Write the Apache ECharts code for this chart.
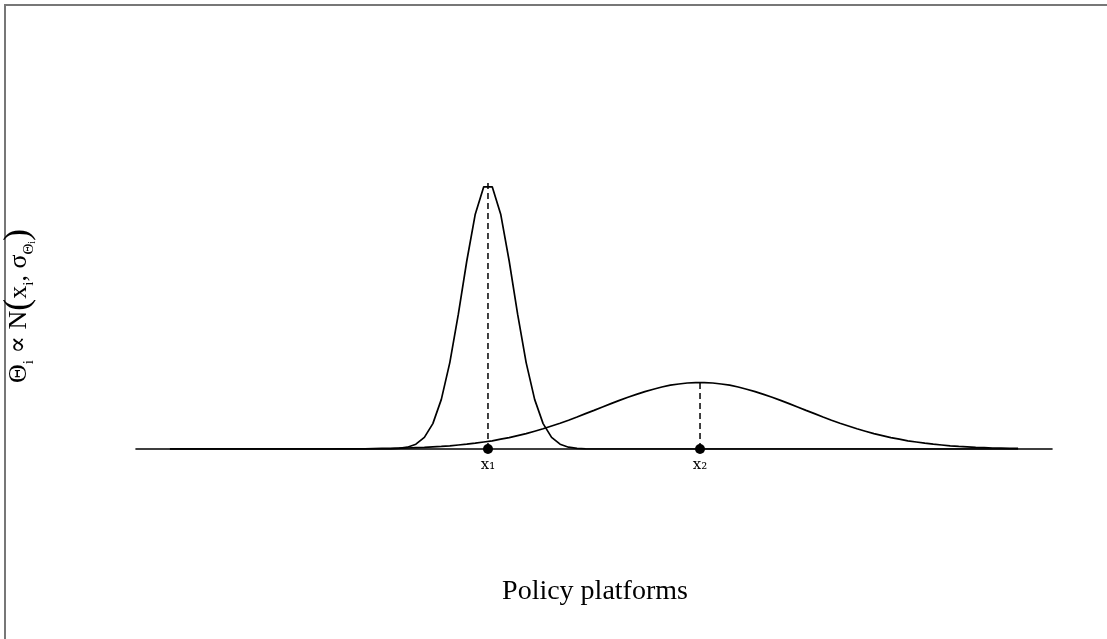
<!DOCTYPE html>
<html>
<head>
<meta charset="utf-8">
<script src="https://cdn.jsdelivr.net/npm/echarts@6/dist/echarts.min.js"></script>
<style>
html,body{margin:0;padding:0;background:#fff;}
#chart{width:1107px;height:639px;}
</style>
</head>
<body>
<div id="chart"></div>
<script>
// Policy-space sample positions (0..100)
const xPositions = [0,1,2,3,4,5,6,7,8,9,10,11,12,13,14,15,16,17,18,19,20,21,22,23,24,25,26,27,28,29,30,31,32,33,34,35,36,37,38,39,40,41,42,43,44,45,46,47,48,49,50,51,52,53,54,55,56,57,58,59,60,61,62,63,64,65,66,67,68,69,70,71,72,73,74,75,76,77,78,79,80,81,82,83,84,85,86,87,88,89,90,91,92,93,94,95,96,97,98,99,100];
// Narrow distribution (voter 1)
const narrowDensity = [0,0,0,0,0,0,0,0,0,0,0,0,0,0,0,0,0,0,0,0,0,0,0,0,0,0,0.01,0.03,0.09,0.24,0.58,1.27,2.48,4.32,6.73,9.40,11.74,13.11,13.11,11.74,9.40,6.73,4.32,2.48,1.27,0.58,0.24,0.09,0.03,0.01,0,0,0,0,0,0,0,0,0,0,0,0,0,0,0,0,0,0,0,0,0,0,0,0,0,0,0,0,0,0,0,0,0,0,0,0,0,0,0,0,0,0,0,0,0,0,0,0,0,0,0];
// Wide distribution (voter 2)
const wideDensity = [0,0,0,0,0,0,0,0,0,0,0,0,0,0,0,0,0,0,0,0,0.01,0.01,0.01,0.01,0.02,0.03,0.03,0.04,0.05,0.07,0.08,0.11,0.13,0.16,0.20,0.24,0.29,0.35,0.41,0.49,0.57,0.67,0.77,0.89,1.01,1.15,1.29,1.44,1.60,1.77,1.93,2.10,2.27,2.43,2.59,2.73,2.87,2.99,3.10,3.19,3.25,3.30,3.32,3.32,3.30,3.25,3.19,3.10,2.99,2.87,2.73,2.59,2.43,2.27,2.10,1.93,1.77,1.60,1.44,1.29,1.15,1.01,0.89,0.77,0.67,0.57,0.49,0.41,0.35,0.29,0.24,0.20,0.16,0.13,0.11,0.08,0.07,0.05,0.04,0.03,0.03];
// Ideal points and peak heights
const idealPoints = [37.5, 62.5];
const peakHeights = [13.30, 3.32];
const pointLabels = ['x\u2081', 'x\u2082'];
const xAxisTitle = 'Policy platforms';

const chart = echarts.init(document.getElementById('chart'), null, {renderer: 'canvas'});
const serif = "'Liberation Serif', 'DejaVu Serif', serif";
const serif2 = "'DejaVu Serif', 'Liberation Serif', serif";

const series = [
  {type: 'line', data: xPositions.map((x, i) => [x, narrowDensity[i]]), showSymbol: false,
   lineStyle: {color: '#000', width: 1.7}, silent: true, z: 3},
  {type: 'line', data: xPositions.map((x, i) => [x, wideDensity[i]]), showSymbol: false,
   lineStyle: {color: '#000', width: 1.7}, silent: true, z: 3}
];
idealPoints.forEach((m, k) => {
  series.push({type: 'line', data: [[m, 0], [m, peakHeights[k]]], showSymbol: false,
    lineStyle: {color: '#000', width: 1.5, type: [6, 4]}, silent: true, z: 2});
});
series.push({
  type: 'scatter', data: idealPoints.map((m, k) => ({value: [m, 0], name: pointLabels[k]})),
  symbolSize: 10, itemStyle: {color: '#000', opacity: 1}, z: 5, silent: true,
  label: {show: true, position: 'bottom', distance: 4, formatter: p => p.name,
    fontFamily: serif2, fontSize: 15, color: '#000', opacity: 1}
});

chart.setOption({
  animation: false,
  backgroundColor: '#fff',
  grid: {left: 136, right: 55, top: 169, bottom: 190},
  xAxis: {type: 'value', min: -4, max: 104,
    axisLine: {show: true, lineStyle: {color: '#000', width: 1.6}, onZero: false},
    axisTick: {show: false}, axisLabel: {show: false}, splitLine: {show: false}},
  yAxis: {type: 'value', min: 0, max: 14, show: false},
  series: series,
  graphic: [
    {type: 'rect', shape: {x: 5, y: 5, width: 1300, height: 800},
     style: {fill: 'none', stroke: '#777', lineWidth: 2}, silent: true},
    {type: 'text', x: 595, y: 592,
     style: {text: xAxisTitle, fill: '#000', font: "28px " + serif, align: 'center', verticalAlign: 'middle'}},
    {type: 'text', x: 19, y: 306, rotation: Math.PI / 2,
     style: {
       text: '{m|\u0398}{s|i}{m| \u221D N}{p|(}{m|x}{s|i}{m|, \u03C3}{s|\u0398}{ss|i}{p|)}',
       align: 'center', verticalAlign: 'middle', fill: '#000',
       rich: {
         m: {fontFamily: serif, fontSize: 26, lineHeight: 36, verticalAlign: 'middle', fill: '#000'},
         s: {fontFamily: serif, fontSize: 15, lineHeight: 31, verticalAlign: 'bottom', fill: '#000'},
         ss: {fontFamily: serif, fontSize: 10, lineHeight: 25, verticalAlign: 'bottom', fill: '#000'},
         p: {fontFamily: serif, fontSize: 36, lineHeight: 36, verticalAlign: 'middle', fill: '#000'}
       }
     }}
  ]
});
</script>
</body>
</html>
